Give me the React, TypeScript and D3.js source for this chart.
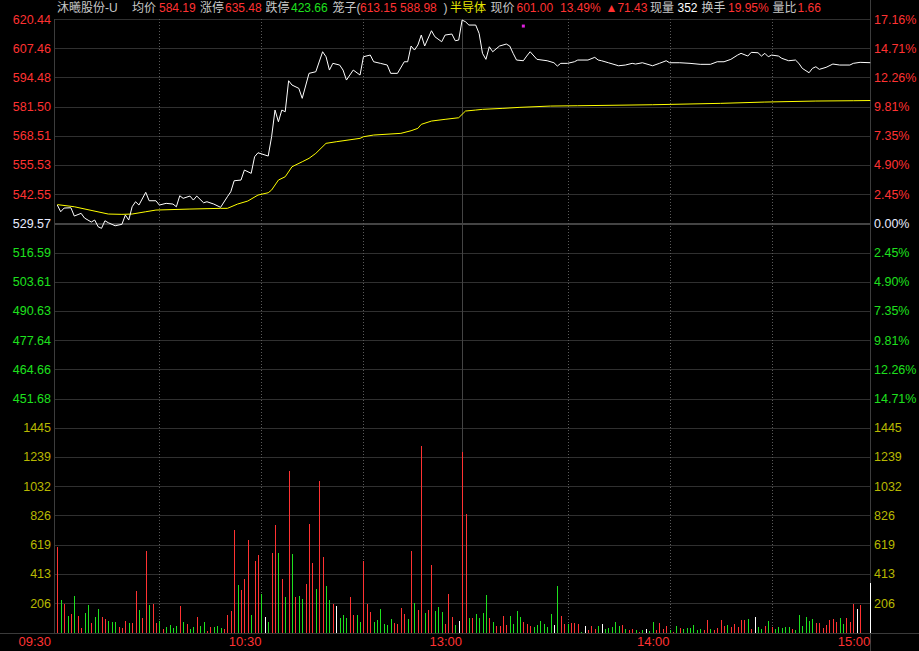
import React from 'react';
import * as d3 from 'd3';

const W = 919;
const H = 651;

const preClose = 529.57;
const priceMin = 438.7;
const priceMax = 620.44;
const volMax = 1445;

const priceTicks = [620.44, 607.46, 594.48, 581.5, 568.51, 555.53, 542.55, 529.57, 516.59, 503.61, 490.63, 477.64, 464.66, 451.68];
const priceTickLabels = ['620.44', '607.46', '594.48', '581.50', '568.51', '555.53', '542.55', '529.57', '516.59', '503.61', '490.63', '477.64', '464.66', '451.68'];
const pctTickLabels = ['17.16%', '14.71%', '12.26%', '9.81%', '7.35%', '4.90%', '2.45%', '0.00%', '2.45%', '4.90%', '7.35%', '9.81%', '12.26%', '14.71%'];
const volTicks = [1445, 1239, 1032, 826, 619, 413, 206];

const timeLabels = ['09:30', '10:30', '13:00', '14:00', '15:00'];
const timeLabelIdx = [0, 60, 119, 180, 239];
const dottedIdx = [30, 60, 90, 150, 180, 210];
const middayIdx = 119;

// price line vertices (minute index, price)
const priceIdx = [0, 1, 2, 4, 5, 7, 8, 10, 11, 12, 13, 14, 15, 17, 19, 20, 21, 22, 23, 24, 26, 27, 29, 30, 32, 34, 35, 36, 37, 39, 40, 41, 43, 44, 46, 48, 50, 51, 52, 54, 55, 57, 58, 59, 62, 63, 64, 65, 66, 67, 68, 69, 71, 72, 74, 76, 78, 79, 80, 81, 83, 84, 85, 87, 89, 90, 92, 93, 95, 97, 98, 100, 102, 103, 104, 105, 106, 107, 108, 110, 111, 113, 114, 116, 117, 118, 119, 120, 121, 123, 124, 125, 126, 127, 128, 130, 132, 133, 134, 135, 137, 138, 139, 141, 144, 146, 147, 148, 150, 152, 153, 156, 158, 159, 160, 162, 165, 167, 169, 170, 172, 175, 177, 179, 180, 183, 186, 189, 192, 194, 196, 198, 200, 201, 203, 204, 206, 207, 208, 209, 210, 212, 213, 215, 217, 218, 219, 221, 222, 223, 224, 226, 228, 230, 233, 234, 236, 239];
const priceVal = [537.71, 534.73, 536.37, 536.51, 532.82, 534.02, 531.93, 530.15, 531.04, 528.06, 527.35, 530.73, 529.84, 528.5, 529.13, 533.26, 531.04, 536.95, 539.18, 537.71, 543.36, 539.62, 539.62, 537.71, 538.46, 538.15, 536.95, 541.84, 540.69, 541.71, 539.93, 541.71, 538.73, 539.18, 538.15, 536.69, 541.4, 543.62, 548.51, 548.82, 553.27, 551.8, 559.18, 560.96, 559.5, 568.08, 579.95, 574.75, 579.95, 579.2, 592.98, 591.07, 589.6, 585.16, 596.27, 596.99, 605.88, 603.66, 597.74, 600.72, 599.97, 597.74, 593.29, 597.74, 595.52, 603.66, 604.41, 601.43, 600.72, 599.97, 596.27, 596.27, 601.43, 601.43, 608.42, 606.64, 608.87, 613.31, 608.42, 615.22, 612.55, 610.33, 613.31, 613.75, 610.77, 611.08, 619.97, 619.22, 617.75, 617.75, 614.06, 605.17, 602.5, 608.1, 605.88, 608.42, 609.3, 608.42, 605.17, 602.19, 601.88, 603.97, 605.88, 602.5, 601.88, 600.99, 599.52, 600.72, 600.72, 601.43, 602.19, 602.19, 603.39, 602.19, 601.88, 600.99, 599.65, 599.97, 600.72, 600.41, 600.99, 599.65, 600.72, 601.88, 600.99, 600.99, 600.72, 600.28, 600.28, 601.43, 601.43, 602.5, 604.41, 605.17, 603.97, 605.61, 605.43, 603.97, 605.17, 603.66, 604.41, 603.97, 602.94, 601.88, 602.19, 600.72, 598.5, 596.54, 598.5, 599.21, 598.05, 598.94, 600.41, 599.97, 599.97, 600.72, 601.17, 601.0];

// average price line vertices
const avgIdx = [0, 5, 15, 19, 22, 26, 29, 39, 48, 50, 53, 56, 59, 62, 63, 65, 67, 69, 72, 74, 76, 79, 82, 89, 90, 93, 101, 104, 106, 107, 110, 114, 118, 120, 123, 125, 131, 136, 145, 153, 175, 195, 208, 223, 234, 239];
const avgVal = [537.9, 536.95, 533.71, 533.57, 533.71, 534.73, 535.48, 535.93, 536.24, 536.24, 538.15, 539.49, 542.15, 543.18, 544.38, 548.82, 550.29, 554.74, 556.96, 558.48, 560.7, 565.15, 565.86, 567.37, 568.08, 568.84, 569.59, 570.75, 571.82, 573.59, 575.06, 575.82, 576.53, 579.51, 579.95, 580.26, 580.71, 581.15, 581.73, 581.87, 582.31, 582.93, 583.51, 583.96, 584.1, 584.19];

// per-minute volume (240 slots)
const volumes = [
  600, 230, 204, 117, 131, 261, 119, 35, 141, 195,
  70, 112, 167, 110, 94, 82, 77, 77, 40, 35,
  82, 70, 70, 294, 160, 105, 572, 195, 204, 70,
  82, 25, 40, 54, 35, 49, 190, 75, 63, 28,
  42, 110, 49, 75, 14, 42, 40, 47, 32, 28,
  126, 153, 720, 336, 301, 379, 654, 124, 506, 548,
  273, 110, 75, 562, 760, 562, 379, 247, 1141, 555,
  254, 261, 237, 343, 767, 492, 308, 1071, 530, 331,
  230, 204, 190, 105, 124, 105, 247, 124, 124, 75,
  501, 204, 148, 75, 89, 167, 61, 54, 96, 68,
  61, 174, 131, 96, 576, 209, 160, 1318, 138, 160,
  477, 153, 181, 145, 61, 273, 110, 54, 82, 1276,
  838, 103, 103, 131, 103, 138, 266, 103, 75, 47,
  47, 117, 54, 117, 61, 153, 110, 75, 61, 47,
  40, 54, 82, 61, 40, 131, 54, 329, 117, 61,
  61, 68, 68, 61, 4, 47, 18, 47, 25, 47,
  61, 25, 32, 40, 75, 47, 54, 25, 18, 25,
  18, 4, 18, 25, 11, 75, 18, 68, 25, 47,
  18, 4, 47, 32, 25, 32, 32, 54, 18, 25,
  18, 89, 25, 18, 32, 89, 47, 54, 40, 61,
  40, 89, 89, 96, 25, 110, 40, 25, 47, 82,
  40, 25, 40, 32, 40, 40, 25, 18, 124, 47,
  110, 82, 96, 68, 68, 32, 54, 89, 96, 75,
  103, 61, 103, 75, 202, 167, 195, 0, 0, 352,
];
// u = up (red), d = down (green), f = flat (white)
const volDir =
  'udududuudd' + 'udduuddduu' + 'uduuduuduu' + 'duddddudud' + 'dudduudddu' +
  'uuuduuuduu' + 'dfduududud' + 'udduuuduud' + 'dufddduudd' + 'uuuddddddu' +
  'uuududuudu' + 'uddduuudfu' + 'ududdddudu' + 'uuudddduuu' + 'ddddddfduu' +
  'duuudfuuud' + 'fddddduduu' + 'dudfdduuuu' + 'dududddddd' + 'uuduuuuduu' +
  'uuudufddud' + 'uddddduddd' + 'ddduuuuuuu' + 'dduuufufff';

const markerIdx = 137;
const markerPrice = 617.3;

const RED = '#ff3232';
const GREEN = '#1ee01e';
const YEL = '#b8b800';
const GRAY = '#c8c8c8';
const WHITE = '#e8ecff';

const FONT = '"Liberation Sans", Arial, "Noto Sans CJK SC", sans-serif';

export default function App() {
  const left = 54;
  const right = 870.5;
  const x = d3.scaleLinear().domain([0, 239]).range([57.3, 870.3]);
  const yP = d3.scaleLinear().domain([priceMin, priceMax]).range([427.7, 19]);
  const yV = d3.scaleLinear().domain([0, volMax]).range([632.5, 427.7]);
  const c = (v: number) => Math.round(v) + 0.5;

  const priceLine = d3
    .line<number>()
    .x((_, k) => x(priceIdx[k]))
    .y((d) => yP(d))(priceVal) as string;
  const avgLine = d3
    .line<number>()
    .x((_, k) => x(avgIdx[k]))
    .y((d) => yP(d))(avgVal) as string;

  const labelColor = (v: number) => (Math.abs(v - preClose) < 0.005 ? WHITE : v > preClose ? RED : GREEN);
  const dirColor = (ch: string) => (ch === 'u' ? RED : ch === 'd' ? GREEN : '#ffffff');

  const header: { t: string; x: number; col: string }[] = [
    { t: '沐曦股份-U', x: 57, col: GRAY },
    { t: '均价', x: 132, col: GRAY },
    { t: '584.19', x: 159, col: RED },
    { t: '涨停', x: 200, col: GRAY },
    { t: '635.48', x: 225, col: RED },
    { t: '跌停', x: 265.5, col: GRAY },
    { t: '423.66', x: 291, col: GREEN },
    { t: '笼子(', x: 332.5, col: GRAY },
    { t: '613.15 588.98', x: 360, col: RED },
    { t: ')', x: 443.5, col: GRAY },
    { t: '半导体', x: 450, col: '#e6e600' },
    { t: '现价', x: 490.5, col: GRAY },
    { t: '601.00', x: 516.5, col: RED },
    { t: '13.49%', x: 560, col: RED },
    { t: '▲71.43', x: 605.5, col: RED },
    { t: '现量', x: 650, col: GRAY },
    { t: '352', x: 677.5, col: '#ffffff' },
    { t: '换手', x: 701.5, col: GRAY },
    { t: '19.95%', x: 728, col: RED },
    { t: '量比', x: 772.5, col: GRAY },
    { t: '1.66', x: 797.5, col: RED },
  ];

  return (
    <svg
      width={W}
      height={H}
      style={{ position: 'fixed', left: 0, top: 0, background: '#000', display: 'block' }}
      fontFamily={FONT}
    >
      <rect x={0} y={0} width={W} height={H} fill="#000" />

      {/* horizontal grid - price */}
      {priceTicks.map((t, k) => (
        <line
          key={'pg' + k}
          x1={left}
          x2={right}
          y1={c(yP(t))}
          y2={c(yP(t))}
          stroke={t === preClose ? '#444' : '#303030'}
          strokeWidth={t === preClose ? 2 : 1}
          shapeRendering="crispEdges"
        />
      ))}
      {/* horizontal grid - volume */}
      {volTicks.map((t, k) => (
        <line key={'vg' + k} x1={left} x2={right} y1={c(yV(t))} y2={c(yV(t))} stroke="#303030" shapeRendering="crispEdges" />
      ))}
      {/* bottom line */}
      <line x1={0} x2={W} y1={c(yV(0))} y2={c(yV(0))} stroke="#3a3a3a" shapeRendering="crispEdges" />

      {/* vertical dotted grid */}
      {dottedIdx.map((i) => (
        <line
          key={'dv' + i}
          x1={c(x(i))}
          x2={c(x(i))}
          y1={19}
          y2={yV(0)}
          stroke="#5a5a5a"
          strokeDasharray="1,2"
          shapeRendering="crispEdges"
        />
      ))}
      <line x1={c(x(middayIdx))} x2={c(x(middayIdx))} y1={19} y2={yV(0)} stroke="#444" shapeRendering="crispEdges" />

      {/* axes */}
      <line x1={c(left)} x2={c(left)} y1={19} y2={yV(0)} stroke="#3c3c3c" shapeRendering="crispEdges" />
      <line x1={870.5} x2={870.5} y1={0} y2={H} stroke="#3c3c3c" shapeRendering="crispEdges" />

      {/* volume bars */}
      {volumes.map((v, i) =>
        v > 0 ? (
          <line
            key={'vb' + i}
            x1={c(x(i))}
            x2={c(x(i))}
            y1={yV(0)}
            y2={yV(v)}
            stroke={dirColor(volDir[i])}
            shapeRendering="crispEdges"
          />
        ) : null
      )}

      {/* lines */}
      <path d={avgLine} fill="none" stroke="#ffff00" strokeWidth={1} />
      <path d={priceLine} fill="none" stroke="#ffffff" strokeWidth={1} />
      <rect x={x(markerIdx) - 1.5} y={yP(markerPrice) - 1.5} width={3} height={3} fill="#e020e0" />

      {/* left price labels */}
      {priceTicks.map((t, k) => (
        <text key={'pl' + k} x={51} y={yP(t)} dy="0.36em" textAnchor="end" fontSize={12.5} fill={labelColor(t)}>
          {priceTickLabels[k]}
        </text>
      ))}
      {/* right pct labels */}
      {priceTicks.map((t, k) => (
        <text key={'pr' + k} x={874} y={yP(t)} dy="0.36em" textAnchor="start" fontSize={12.5} fill={labelColor(t)}>
          {pctTickLabels[k]}
        </text>
      ))}
      {/* volume labels */}
      {volTicks.map((t, k) => (
        <g key={'vl' + k}>
          <text x={51} y={yV(t)} dy="0.36em" textAnchor="end" fontSize={12.5} fill={YEL}>
            {t}
          </text>
          <text x={874} y={yV(t)} dy="0.36em" textAnchor="start" fontSize={12.5} fill={YEL}>
            {t}
          </text>
        </g>
      ))}

      {/* time labels */}
      {timeLabels.map((t, k) => (
        <text
          key={'tl' + k}
          x={timeLabelIdx[k] === 0 ? 51 : x(timeLabelIdx[k])}
          y={646}
          textAnchor="end"
          fontSize={13}
          fill={RED}
        >
          {t}
        </text>
      ))}

      {/* header */}
      {header.map((h, k) => (
        <text key={'h' + k} x={h.x} y={12} fontSize={12} fill={h.col}>
          {h.t}
        </text>
      ))}
    </svg>
  );
}
